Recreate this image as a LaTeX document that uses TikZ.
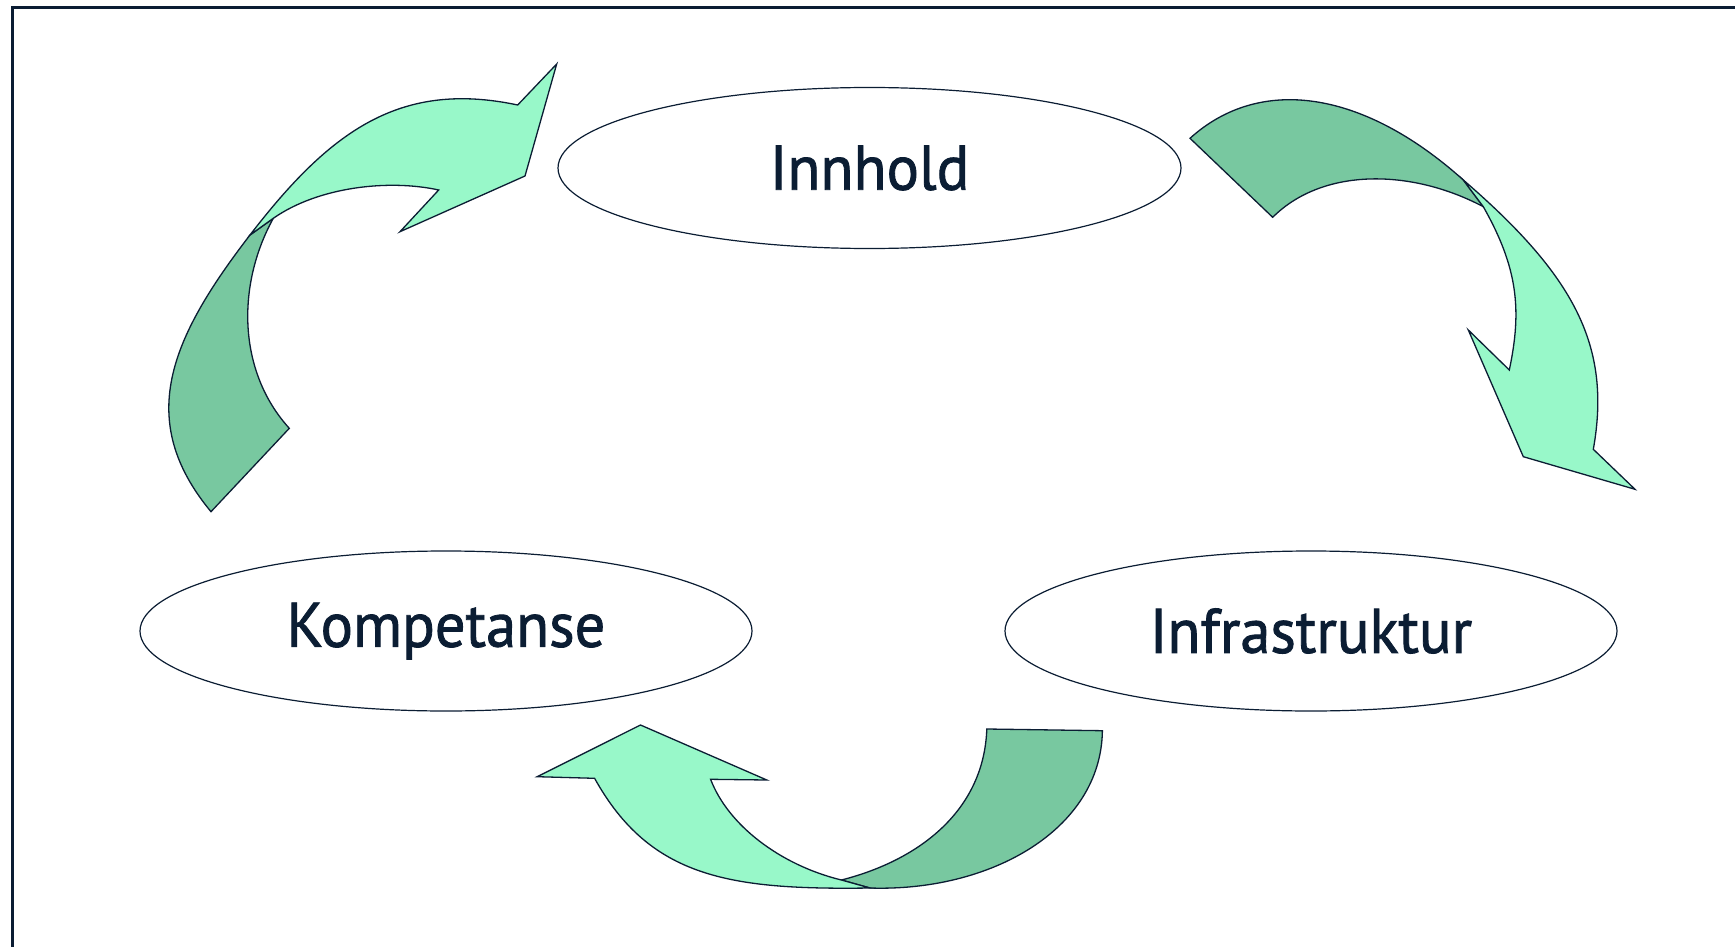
\documentclass[tikz,border=0pt]{standalone}
\usepackage{fontspec}
\setmainfont{PT Sans}[FakeStretch=0.96,FakeBold=1.3]
\usetikzlibrary{shapes.geometric}
\definecolor{navy}{HTML}{0B1D33}
\definecolor{lightg}{HTML}{98F8C9}
\definecolor{darkg}{HTML}{78C8A0}
\tikzset{
  frame/.style={draw=navy, line width=2.4pt},
  oval/.style={ellipse, draw=navy, line width=1.2pt, fill=white, minimum width=612pt, minimum height=160pt, inner sep=0pt, text=navy, font=\fontsize{63}{70}\selectfont},
  lightpart/.style={fill=lightg, draw=navy, line width=1.3pt, line join=miter},
  darkpart/.style={fill=darkg, draw=navy, line width=1.3pt, line join=miter},
}
\begin{document}
\begin{tikzpicture}[x=1pt,y=-1pt]
\useasboundingbox (0,0) rectangle (1735,947);
\fill[white] (0,0) rectangle (1735,947);
\draw[frame] (12.5,950) -- (12.5,7.5) -- (1740,7.5);

% ellipses
\node[oval, minimum width=623pt, minimum height=161pt] (inn) at (869.5,168) {Innhold};
\node[oval] (komp) at (446,631) {Kompetanse};
\node[oval] (infra) at (1311,631) {Infrastruktur};

% top-left arrow
\path[darkpart] (273.3,218.3) .. controls (236,286) and (238,372) .. (289.3,428.3)
  -- (211,511.7) .. controls (135,420) and (170,339) .. (250,235) -- cycle;
\path[lightpart] (250,235) .. controls (330,131) and (400,80) .. (517.7,105)
  -- (556.7,64) -- (525,176) -- (400,231.7) -- (438.7,190)
  .. controls (388.7,179) and (318.3,186.8) .. (273.3,218.3) -- cycle;

% top-right arrow
\path[darkpart] (1190,138.3) .. controls (1260,75) and (1363,90) .. (1463.3,180)
  -- (1483.3,206.7) .. controls (1410,168) and (1322,168) .. (1272.7,217.3) -- cycle;
\path[lightpart] (1463.3,180) .. controls (1573.3,275) and (1612,345) .. (1593.3,449.3)
  -- (1635,489.3) -- (1523.3,456.7) -- (1468.3,330) -- (1509.3,370)
  .. controls (1522,310) and (1518,268) .. (1483.3,206.7) -- cycle;

% bottom arrow
\path[darkpart] (841.4,880) .. controls (920,860) and (984,810) .. (986.8,729)
  -- (1102.4,730.7) .. controls (1101,830) and (990,892) .. (870,888) -- cycle;
\path[lightpart] (870,888) .. controls (730,890) and (650,878) .. (594.6,778.3)
  -- (537.2,776.7) -- (640.5,725) -- (766.8,780) -- (710.6,779.3)
  .. controls (728,825) and (780,865) .. (841.4,880) -- cycle;
\end{tikzpicture}
\end{document}
